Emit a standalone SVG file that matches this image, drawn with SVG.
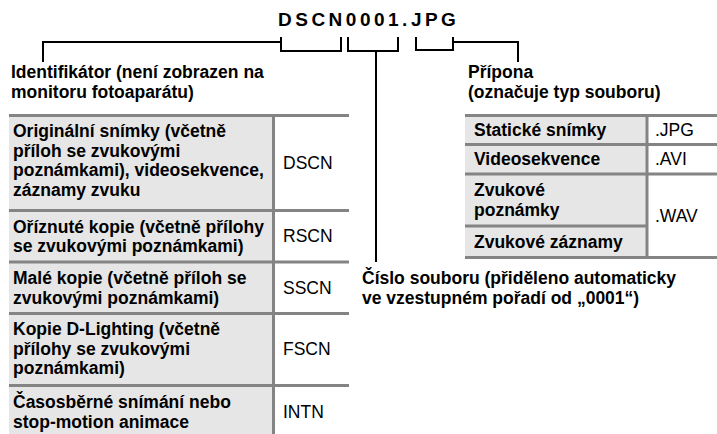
<svg xmlns="http://www.w3.org/2000/svg" width="717" height="434" viewBox="0 0 717 434">
  <style>
    text { font-family: "Liberation Sans", Arial, sans-serif; fill: #000; }
    .b { font-size: 17.5px; font-weight: bold; }
    .r { font-size: 17.5px; }
    .title { font-size: 19px; font-weight: bold; letter-spacing: 3.5px; }
    .cell { fill: #e6e6e6; }
    .grid { stroke: #848484; stroke-width: 3; fill: none; }
    .conn { stroke: #000; stroke-width: 2; fill: none; }
  </style>
  <rect width="717" height="434" fill="#fff"/>

  <!-- file name -->
  <g id="filename">
    <text class="title" x="278" y="26">DSCN0001.JPG</text>
  </g>

  <!-- brackets and leader lines -->
  <g id="connectors">
    <path class="conn" d="M43,62 V42 H281"/>
    <path class="conn" d="M281,37 V51 H341 V37"/>
    <path class="conn" d="M348,37 V51 H398 V37"/>
    <path class="conn" d="M376,51 V262"/>
    <path class="conn" d="M416,37 V50 H453 V37"/>
    <path class="conn" d="M453,42 H518 V62"/>
  </g>

  <!-- identifier label -->
  <g id="label-identifier">
    <text class="b" x="11" y="78">Identifikátor (není zobrazen na</text>
    <text class="b" x="11" y="97.5">monitoru fotoaparátu)</text>
  </g>

  <!-- identifier table -->
  <g id="table-identifier">
    <rect class="cell" x="9" y="115" width="264" height="319"/>
    <path class="grid" d="M9,115.5 H349 M9,210.5 H349 M9,262 H349 M9,313.5 H349 M9,385.5 H349 M273.5,115 V434"/>
    <text class="b" x="13" y="137">Originální snímky (včetně</text>
    <text class="b" x="13" y="156.5">příloh se zvukovými</text>
    <text class="b" x="13" y="176">poznámkami), videosekvence,</text>
    <text class="b" x="13" y="195.5">záznamy zvuku</text>
    <text class="r" x="283" y="169">DSCN</text>
    <text class="b" x="13" y="232.5">Oříznuté kopie (včetně přílohy</text>
    <text class="b" x="13" y="252">se zvukovými poznámkami)</text>
    <text class="r" x="283" y="242">RSCN</text>
    <text class="b" x="13" y="284">Malé kopie (včetně příloh se</text>
    <text class="b" x="13" y="303.5">zvukovými poznámkami)</text>
    <text class="r" x="283" y="294">SSCN</text>
    <text class="b" x="13" y="335">Kopie D-Lighting (včetně</text>
    <text class="b" x="13" y="354.5">přílohy se zvukovými</text>
    <text class="b" x="13" y="374">poznámkami)</text>
    <text class="r" x="283" y="354.5">FSCN</text>
    <text class="b" x="13" y="408">Časosběrné snímání nebo</text>
    <text class="b" x="13" y="427.5">stop-motion animace</text>
    <text class="r" x="283" y="418">INTN</text>
  </g>

  <!-- extension label -->
  <g id="label-extension">
    <text class="b" x="468" y="78">Přípona</text>
    <text class="b" x="468" y="97.5">(označuje typ souboru)</text>
  </g>

  <!-- extension table -->
  <g id="table-extension">
    <rect class="cell" x="465" y="115" width="182" height="143"/>
    <path class="grid" d="M465,115.5 H717 M465,144.5 H717 M465,174 H717 M465,226 H647 M465,257.5 H717 M647,115 V259"/>
    <text class="b" x="474" y="136">Statické snímky</text>
    <text class="r" x="655" y="136">.JPG</text>
    <text class="b" x="474" y="165">Videosekvence</text>
    <text class="r" x="655" y="165">.AVI</text>
    <text class="b" x="474" y="196">Zvukové</text>
    <text class="b" x="474" y="215.5">poznámky</text>
    <text class="r" x="655" y="222">.WAV</text>
    <text class="b" x="474" y="248">Zvukové záznamy</text>
  </g>

  <!-- file number label -->
  <g id="label-number">
    <text class="b" x="362" y="284">Číslo souboru (přiděleno automaticky</text>
    <text class="b" x="362" y="303.5">ve vzestupném pořadí od „0001“)</text>
  </g>
</svg>
